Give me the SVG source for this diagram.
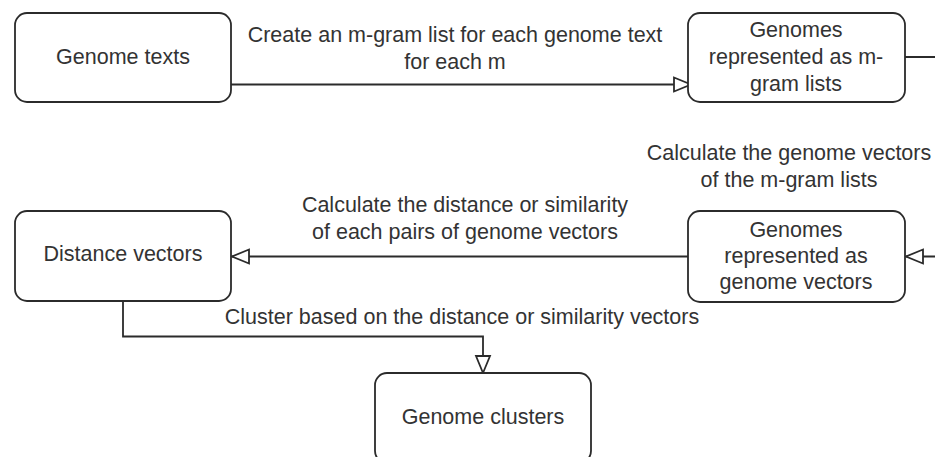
<svg xmlns="http://www.w3.org/2000/svg" width="935" height="457" viewBox="0 0 935 457">
  <style>
    .box { fill: #ffffff; stroke: #2b2b2b; stroke-width: 1.8; }
    .edge { fill: none; stroke: #2b2b2b; stroke-width: 1.8; }
    text { font-family: "Liberation Sans", Arial, sans-serif; font-size: 21.5px; fill: #333333; text-anchor: middle; dominant-baseline: central; }
  </style>
  <defs>
    <marker id="arrow" markerUnits="userSpaceOnUse" markerWidth="22" markerHeight="18" refX="18" refY="8" orient="auto" overflow="visible">
      <path d="M1,1 L18,8 L1,15 Z" fill="#ffffff" stroke="#2b2b2b" stroke-width="1.8"/>
    </marker>
  </defs>
  <rect width="935" height="457" fill="#ffffff"/>

  <g id="connectors">
    <path class="edge" d="M231,84.5 H691" marker-end="url(#arrow)"/>
    <text x="455" y="35">Create an m-gram list for each genome text</text>
    <text x="455" y="61.5">for each m</text>

    <path class="edge" d="M905,57 H950 V256.5 H906" marker-end="url(#arrow)"/>
    <text x="789" y="153">Calculate the genome vectors</text>
    <text x="789" y="180">of the m-gram lists</text>

    <path class="edge" d="M688,256.5 H232" marker-end="url(#arrow)"/>
    <text x="465" y="205">Calculate the distance or similarity</text>
    <text x="465" y="232">of each pairs of genome vectors</text>

    <path class="edge" d="M123,302 V336.5 H483 V373" marker-end="url(#arrow)"/>
    <text x="462" y="317">Cluster based on the distance or similarity vectors</text>
  </g>

  <g id="genome-texts">
    <rect class="box" x="15" y="13" width="216" height="89" rx="12" ry="12"/>
    <text x="123" y="57">Genome texts</text>
  </g>

  <g id="mgram-lists">
    <rect class="box" x="688" y="13" width="217" height="89" rx="12" ry="12"/>
    <text x="796" y="30">Genomes</text>
    <text x="796" y="57">represented as m-</text>
    <text x="796" y="84">gram lists</text>
  </g>

  <g id="genome-vectors">
    <rect class="box" x="688" y="211" width="217" height="91" rx="12" ry="12"/>
    <text x="796" y="230">Genomes</text>
    <text x="796" y="255.5">represented as</text>
    <text x="796" y="281.5">genome vectors</text>
  </g>

  <g id="distance-vectors">
    <rect class="box" x="15" y="211" width="216" height="90" rx="12" ry="12"/>
    <text x="123" y="254">Distance vectors</text>
  </g>

  <g id="genome-clusters">
    <rect class="box" x="375" y="373" width="216" height="90" rx="12" ry="12"/>
    <text x="483" y="417">Genome clusters</text>
  </g>
</svg>
